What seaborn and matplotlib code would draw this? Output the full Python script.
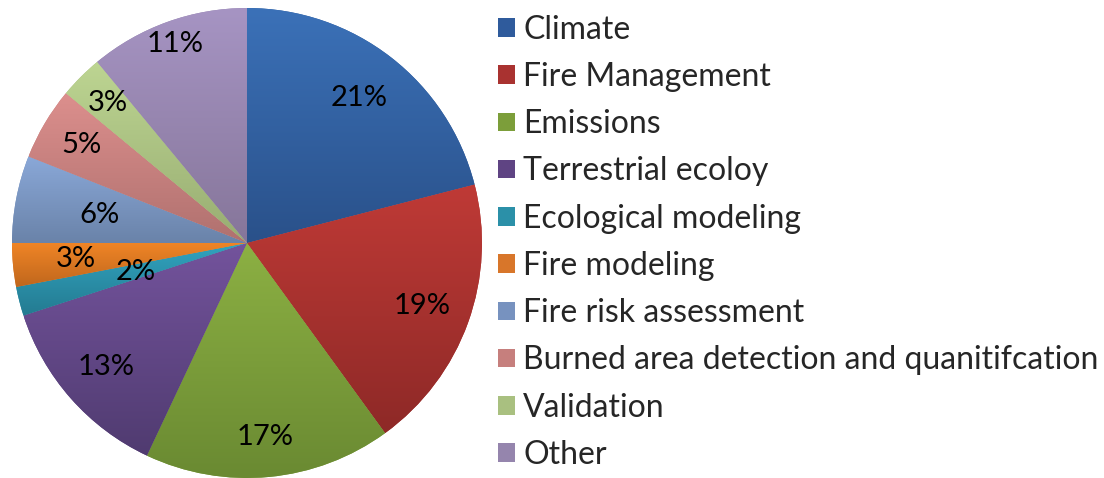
import numpy as np
import matplotlib
matplotlib.use("Agg")
import matplotlib.pyplot as plt
from matplotlib.colors import to_rgb
from matplotlib.patches import Patch
import seaborn as sns

# Research topics and their shares (%)
categories = [
    "Climate", "Fire Management", "Emissions", "Terrestrial ecoloy",
    "Ecological modeling", "Fire modeling", "Fire risk assessment",
    "Burned area detection and quanitifcation", "Validation", "Other",
]
shares = [21, 19, 17, 13, 2, 3, 6, 5, 3, 11]

# Shading: lighter at the top of each slice, darker at the bottom
top_colors = ["#3b71b8", "#bf3a36", "#8cb043", "#73539c", "#31a3bf",
              "#f08526", "#8aa8d8", "#dc8f8d", "#bdd592", "#a694c3"]
bottom_colors = ["#2a518a", "#8e2927", "#6a8a32", "#503b70", "#247b91",
                 "#c0671d", "#6a83a9", "#b0716f", "#98ad72", "#86769a"]
mid_colors = ["#2f5b9c", "#a93230", "#7c9e3a", "#5f4483", "#2b90a8",
              "#d8762a", "#7792bf", "#c67f7d", "#a9c080", "#9585ad"]
label_radius = [0.78, 0.79, 0.83, 0.80, 0.49, 0.73, 0.64, 0.82, 0.84, 0.90]

sns.set_theme(style="white")
plt.rcParams["font.family"] = ["Lato", "DejaVu Sans"]

fig = plt.figure(figsize=(11.04, 4.78), dpi=100)
ax = fig.add_axes([0.01087, 0.0, 0.4257, 0.9833])

wedges, _ = ax.pie(shares, startangle=90, counterclock=False,
                   radius=1.0, colors=mid_colors,
                   wedgeprops=dict(linewidth=0))

for w, c_top, c_bot in zip(wedges, top_colors, bottom_colors):
    ext = w.get_path().get_extents()
    t = np.linspace(0, 1, 64)[:, None, None]
    grad = (1 - t) * np.array(to_rgb(c_bot)) + t * np.array(to_rgb(c_top))
    im = ax.imshow(grad, extent=[ext.x0, ext.x1, ext.y0, ext.y1],
                   origin="lower", aspect="auto", interpolation="bilinear",
                   zorder=w.get_zorder() + 0.1)
    im.set_clip_path(w)

for w, v, r in zip(wedges, shares, label_radius):
    ang = np.deg2rad((w.theta1 + w.theta2) / 2)
    ax.text(r * np.cos(ang), r * np.sin(ang), f"{v}%", ha="center",
            va="center", fontsize=21, color="black", zorder=5)

ax.set_xlim(-1.0, 1.0)
ax.set_ylim(-1.0, 1.0)
ax.set_aspect("equal")
ax.axis("off")

handles = [Patch(facecolor=c, edgecolor="none") for c in mid_colors]
fig.legend(handles, categories, loc="upper left",
           bbox_to_anchor=(0.438, 1.0), frameon=False, fontsize=23,
           handlelength=0.52, handleheight=0.52, handletextpad=0.26,
           labelspacing=0.54, borderaxespad=0.0, borderpad=0.46)

fig.savefig("out.png", dpi=100)
